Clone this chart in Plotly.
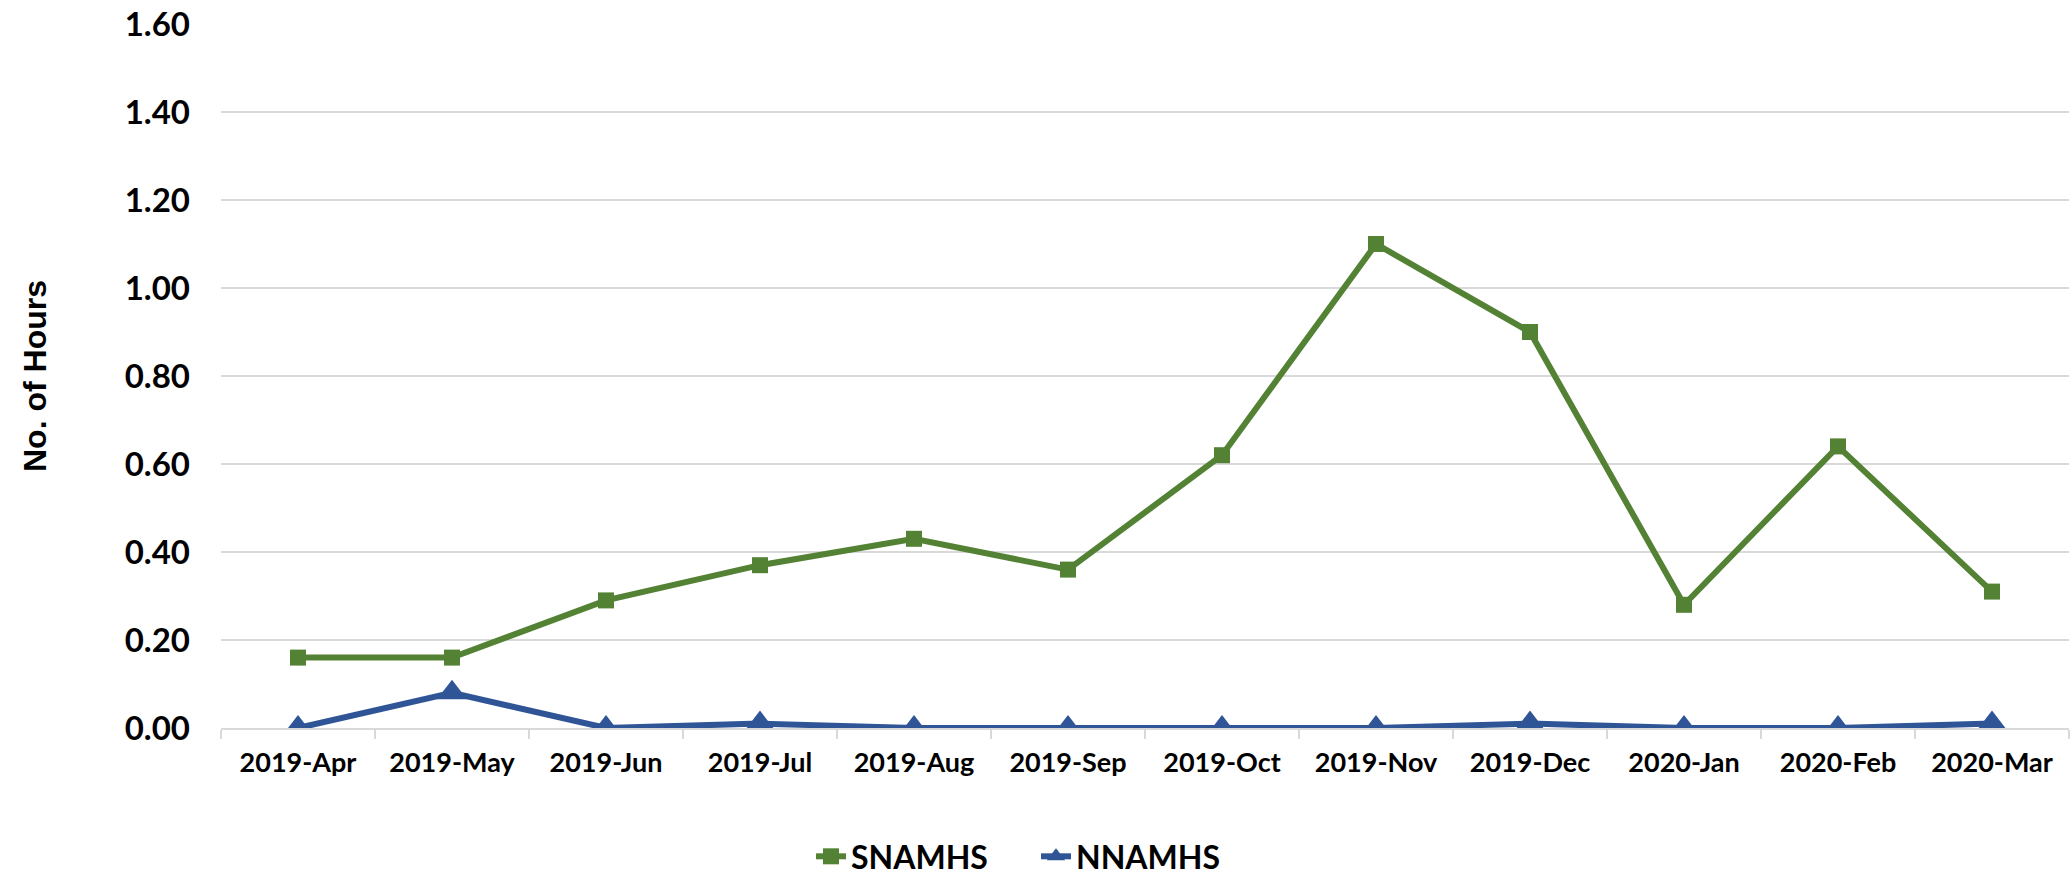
import plotly.graph_objects as go

months = ['2019-Apr', '2019-May', '2019-Jun', '2019-Jul', '2019-Aug', '2019-Sep',
          '2019-Oct', '2019-Nov', '2019-Dec', '2020-Jan', '2020-Feb', '2020-Mar']
snamhs = [0.16, 0.16, 0.29, 0.37, 0.43, 0.36, 0.62, 1.10, 0.90, 0.28, 0.64, 0.31]
nnamhs = [0.00, 0.08, 0.00, 0.01, 0.00, 0.00, 0.00, 0.00, 0.01, 0.00, 0.00, 0.01]
y_ticks = [0, 0.2, 0.4, 0.6, 0.8, 1.0, 1.2, 1.4, 1.6]

green = '#548235'
blue = '#2F5597'

fig = go.Figure()
fig.add_trace(go.Scatter(x=months, y=snamhs, name='SNAMHS', mode='lines+markers',
                         line=dict(color=green, width=6),
                         marker=dict(symbol='square', size=16, color=green)))
fig.add_trace(go.Scatter(x=months, y=nnamhs, name='NNAMHS', mode='lines+markers',
                         line=dict(color=blue, width=6),
                         marker=dict(symbol='triangle-up', size=26, color=blue)))

fig.update_layout(
    width=2072, height=883,
    margin=dict(l=221, r=3, t=24, b=155, autoexpand=False),
    paper_bgcolor='white', plot_bgcolor='white',
    font=dict(family='Lato', color='black', weight='bold'),
    legend=dict(orientation='h', xref='container', yref='container',
                x=0.5, y=0.03, xanchor='center', yanchor='middle',
                font=dict(size=32, family='Lato', weight='bold'),
                entrywidth=180, traceorder='normal'),
    showlegend=True,
)
fig.update_xaxes(type='category', showgrid=False, showline=True, linecolor='#d9d9d9', linewidth=2,
                 ticks='outside', tickson='boundaries', ticklen=9, tickcolor='#d9d9d9', tickwidth=2,
                 tickfont=dict(size=27, family='Lato', weight='bold'), ticklabelstandoff=10,
                 ticklabeloverflow='allow', automargin=False, range=[-0.5, 11.5])
fig.update_yaxes(range=[0, 1.6], tickvals=y_ticks, tickformat='.2f',
                 showgrid=True, gridcolor='#d9d9d9', gridwidth=2, zeroline=False, showline=False,
                 tickfont=dict(size=33, family='Lato', weight='bold'), ticklabelstandoff=30,
                 ticklabeloverflow='allow', automargin=False,
                 title=dict(text='No. of Hours', standoff=68,
                            font=dict(size=32, family='Liberation Sans', weight='bold')))

# drop the default 8px page margin so the figure fills the window exactly
fig.write_html('out.html', config={'displayModeBar': False},
               post_script="document.body.style.margin='0';")
